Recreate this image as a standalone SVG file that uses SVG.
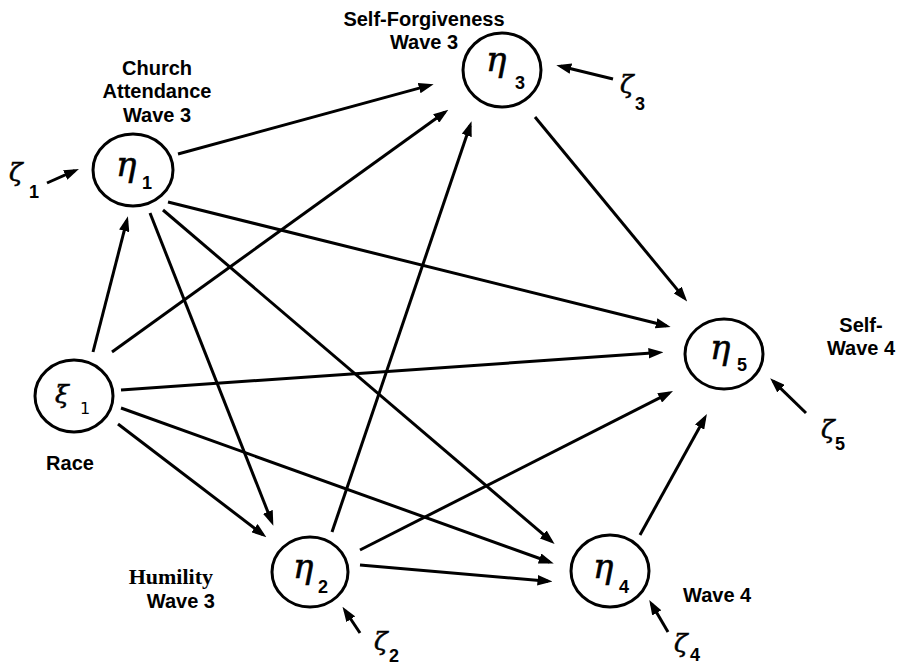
<svg xmlns="http://www.w3.org/2000/svg" width="897" height="665" viewBox="0 0 897 665">
<defs>
<marker id="ah" viewBox="0 0 10 7" refX="7" refY="3.5" markerWidth="5" markerHeight="3.5" orient="auto" markerUnits="strokeWidth">
<path d="M0,0 L10,3.5 L0,7 z" fill="#000"/>
</marker>
<style>
.node{fill:#fff;stroke:#000;stroke-width:3}
.edge line{stroke:#000;stroke-width:3;marker-end:url(#ah)}
.lbl{font-family:"Liberation Sans",Arial,sans-serif;font-weight:bold;font-size:20px;fill:#000}
.gr{font-family:"DejaVu Serif","Liberation Serif",serif;font-style:italic;fill:#000;stroke:#000;stroke-width:0.6}
.sub{font-family:"Liberation Sans",Arial,sans-serif;font-weight:bold;font-size:18px;fill:#000}
</style>
</defs>
<rect width="897" height="665" fill="#fff"/>
<g id="connectors" class="edge">
<line x1="47" y1="183" x2="74.8" y2="170.7"/>
<line x1="93" y1="352" x2="126.8" y2="220.7"/>
<line x1="112" y1="352" x2="444.7" y2="112.3"/>
<line x1="121" y1="390" x2="659" y2="352.6"/>
<line x1="118" y1="424" x2="262.8" y2="534.5"/>
<line x1="121" y1="408" x2="549.5" y2="562"/>
<line x1="178" y1="154" x2="429.3" y2="85.4"/>
<line x1="168" y1="202" x2="666.3" y2="325.8"/>
<line x1="150" y1="213" x2="271.7" y2="521.6"/>
<line x1="163" y1="210" x2="551.2" y2="541.2"/>
<line x1="332" y1="532" x2="470.1" y2="125.5"/>
<line x1="360" y1="550" x2="669" y2="393.1"/>
<line x1="360" y1="565" x2="548" y2="581.2"/>
<line x1="535" y1="117" x2="684.3" y2="298.1"/>
<line x1="640" y1="535" x2="704.7" y2="417.9"/>
<line x1="613" y1="79" x2="560.7" y2="66.2"/>
<line x1="360" y1="633" x2="345" y2="610.5"/>
<line x1="668" y1="632" x2="651.5" y2="603.8"/>
<line x1="806" y1="413" x2="773.4" y2="381.3"/>
</g>
<g id="xi1">
<ellipse class="node" cx="74" cy="396" rx="39" ry="36"/>
<text class="gr" x="55" y="403" font-size="25">ξ</text>
<text x="80" y="414" font-family="DejaVu Sans,sans-serif" font-size="16">1</text>
<text class="lbl" x="70" y="470" text-anchor="middle">Race</text>
</g>
<g id="eta1">
<ellipse class="node" cx="133" cy="170" rx="40" ry="36"/>
<text class="gr" x="116" y="176" font-size="34">η</text>
<text class="sub" x="142" y="189">1</text>
<text class="lbl" x="157" y="75" text-anchor="middle">Church</text>
<text class="lbl" x="157" y="98" text-anchor="middle">Attendance</text>
<text class="lbl" x="157" y="122" text-anchor="middle">Wave 3</text>
</g>
<g id="eta3">
<ellipse class="node" cx="502" cy="70" rx="39" ry="37"/>
<text class="gr" x="486" y="71" font-size="34">η</text>
<text class="sub" x="515" y="89">3</text>
<text class="lbl" x="424" y="26" text-anchor="middle">Self-Forgiveness</text>
<text class="lbl" x="424" y="49" text-anchor="middle">Wave 3</text>
</g>
<g id="eta2">
<ellipse class="node" cx="310" cy="572" rx="38" ry="35"/>
<text class="gr" x="293" y="578" font-size="34">η</text>
<text class="sub" x="318" y="593">2</text>
<text x="213" y="584" text-anchor="end" font-family="Liberation Serif,serif" font-weight="bold" font-size="22">Humility</text>
<text class="lbl" x="215" y="608" text-anchor="end">Wave 3</text>
</g>
<g id="eta4">
<ellipse class="node" cx="610" cy="571" rx="39" ry="36"/>
<text class="gr" x="593" y="578" font-size="34">η</text>
<text class="sub" x="619" y="593">4</text>
<text class="lbl" x="683" y="602">Wave 4</text>
</g>
<g id="eta5">
<ellipse class="node" cx="724" cy="354" rx="39" ry="35"/>
<text class="gr" x="710" y="359" font-size="34">η</text>
<text class="sub" x="737" y="371">5</text>
<text class="lbl" x="861" y="332" text-anchor="middle">Self-</text>
<text class="lbl" x="861" y="355" text-anchor="middle">Wave 4</text>
</g>
<g id="zeta1">
<text class="gr" x="9" y="181" font-size="25">ζ</text>
<text class="sub" x="29" y="198">1</text>
</g>
<g id="zeta2">
<text class="gr" x="374" y="650" font-size="25">ζ</text>
<text class="sub" x="389" y="662">2</text>
</g>
<g id="zeta3">
<text class="gr" x="620" y="93" font-size="25">ζ</text>
<text class="sub" x="635" y="110">3</text>
</g>
<g id="zeta4">
<text class="gr" x="674" y="652" font-size="25">ζ</text>
<text class="sub" x="690" y="661">4</text>
</g>
<g id="zeta5">
<text class="gr" x="821" y="438" font-size="25">ζ</text>
<text class="sub" x="835" y="450">5</text>
</g>
</svg>
